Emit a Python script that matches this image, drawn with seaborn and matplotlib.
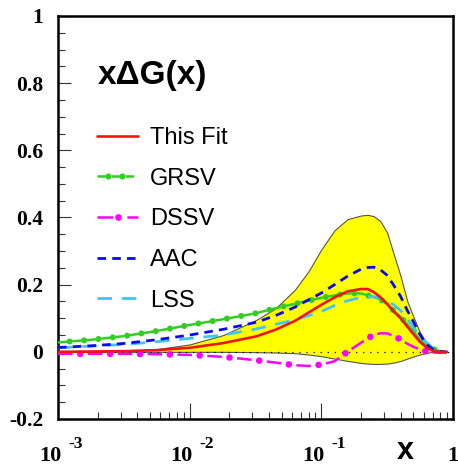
import numpy as np
import matplotlib
matplotlib.use("Agg")
import matplotlib.pyplot as plt
import seaborn as sns
from matplotlib.lines import Line2D
from matplotlib.ticker import FixedLocator, LogLocator, MultipleLocator, NullFormatter
from matplotlib.legend_handler import HandlerTuple, HandlerLine2D

# ---------------- data ----------------
x_vals = [0.001, 0.0018, 0.0032, 0.0056, 0.01, 0.018, 0.032, 0.045, 0.063, 0.08,
          0.1, 0.126, 0.158, 0.2, 0.225, 0.25, 0.28, 0.316, 0.355, 0.4,
          0.45, 0.5, 0.56, 0.63, 0.7, 0.79, 0.9]
this_fit = [0.0, 0.001, 0.002, 0.005, 0.012, 0.026, 0.046, 0.066, 0.092, 0.117,
            0.14, 0.162, 0.18, 0.187, 0.187, 0.178, 0.163, 0.143, 0.12, 0.10,
            0.075, 0.053, 0.03, 0.013, 0.003, 0.0, 0.0]
grsv = [0.028, 0.036, 0.047, 0.062, 0.08, 0.097, 0.115, 0.13, 0.143, 0.152,
        0.161, 0.168, 0.174, 0.174, 0.168, 0.163, 0.157, 0.142, 0.122, 0.104,
        0.081, 0.061, 0.036, 0.02, 0.009, 0.002, -0.002]
dssv = [-0.006, -0.006, -0.006, -0.007, -0.009, -0.015, -0.025, -0.032, -0.04, -0.042,
        -0.038, -0.028, 0.0, 0.027, 0.04, 0.05, 0.055, 0.055, 0.047, 0.037,
        0.024, 0.015, 0.007, 0.001, -0.002, -0.003, -0.002]
aac = [0.013, 0.018, 0.025, 0.036, 0.05, 0.067, 0.088, 0.108, 0.133, 0.155,
       0.175, 0.2, 0.225, 0.246, 0.251, 0.252, 0.245, 0.228, 0.198, 0.165,
       0.123, 0.09, 0.052, 0.022, 0.008, 0.002, -0.001]
lss = [0.012, 0.017, 0.022, 0.03, 0.04, 0.05, 0.068, 0.082, 0.095, 0.108,
       0.12, 0.138, 0.152, 0.162, 0.164, 0.164, 0.16, 0.152, 0.14, 0.123,
       0.097, 0.074, 0.045, 0.028, 0.012, 0.002, -0.002]
band_hi = [0.0, 0.001, 0.003, 0.008, 0.022, 0.05, 0.095, 0.13, 0.185, 0.24,
           0.305, 0.362, 0.395, 0.406, 0.408, 0.404, 0.39, 0.355, 0.29, 0.225,
           0.15, 0.105, 0.058, 0.027, 0.006, 0.0, 0.0]
band_lo = [0.0, 0.0, 0.0, 0.0, 0.0, 0.0, -0.001, -0.002, -0.004, -0.008,
           -0.013, -0.02, -0.027, -0.033, -0.035, -0.036, -0.036, -0.035, -0.032, -0.027,
           -0.02, -0.014, -0.008, -0.003, 0.0, 0.0, 0.0]

legend_labels = ["This Fit", "GRSV", "DSSV", "AAC", "LSS"]
title_text = "xΔG(x)"
x_label = "x"
y_ticks = [-0.2, 0, 0.2, 0.4, 0.6, 0.8, 1]
y_tick_labels = ["-0.2", "0", "0.2", "0.4", "0.6", "0.8", "1"]
x_ticks = [0.001, 0.01, 0.1, 1]
x_tick_base = ["10", "10", "10", "1"]
x_tick_exp = ["-3", "-2", "-1", ""]

# ---------------- style ----------------
sns.set_style("ticks")
plt.rcParams["font.family"] = ["Liberation Sans", "DejaVu Sans"]
plt.rcParams["axes.unicode_minus"] = False
plt.rcParams["lines.scale_dashes"] = False
plt.rcParams["text.color"] = "black"
plt.rcParams["axes.labelcolor"] = "black"
plt.rcParams["xtick.color"] = "black"
plt.rcParams["ytick.color"] = "black"

RED = "#f01414"
GREEN = "#33cc22"
MAGENTA = "#ff00ff"
BLUE = "#0a0aee"
CYAN = "#3fc6f5"


class DotHandler(HandlerLine2D):
    """Places legend markers at given fractions of the handle length."""

    def __init__(self, fracs, **kw):
        super().__init__(numpoints=len(fracs), **kw)
        self.fracs = fracs

    def get_xdata(self, legend, xdescent, ydescent, width, height, fontsize):
        xs = np.array([-xdescent + f * width for f in self.fracs], dtype=float)
        return xs, xs


fig = plt.figure(figsize=(4.58, 4.66), dpi=100)
ax = fig.add_axes([58 / 458, 47 / 466, 395 / 458, 403 / 466])
ax.set_facecolor("white")

# uncertainty band
ax.fill_between(x_vals, band_lo, band_hi, facecolor="#ffff00", edgecolor="#555544",
                linewidth=0.8, zorder=1)
# zero dotted line
ax.axhline(0, color="black", linewidth=0.9, linestyle=(0, (0.9, 4.2)), zorder=2)

# curves
GRSV_DASH = (0, (6.6, 3.8))
GRSV_DOT = (2.0, (0.01, 10.4))
DSSV_DASH = (0, (10.5, 11.0))
DSSV_DOT = (5.5, (0.01, 21.5))
LSS_DASH = (0, (10.5, 7.0))
AAC_DASH = (0, (6.2, 4.4))

sns.lineplot(x=x_vals, y=grsv, ax=ax, color=GREEN, linewidth=1.8,
             linestyle=GRSV_DASH, zorder=3)
sns.lineplot(x=x_vals, y=grsv, ax=ax, color=GREEN, linewidth=4.4,
             linestyle=GRSV_DOT, dash_capstyle="round", zorder=3)
sns.lineplot(x=x_vals, y=dssv, ax=ax, color=MAGENTA, linewidth=1.8,
             linestyle=DSSV_DASH, zorder=3)
sns.lineplot(x=x_vals, y=dssv, ax=ax, color=MAGENTA, linewidth=4.8,
             linestyle=DSSV_DOT, dash_capstyle="round", zorder=3)
sns.lineplot(x=x_vals, y=lss, ax=ax, color=CYAN, linewidth=2.0,
             linestyle=LSS_DASH, zorder=3)
sns.lineplot(x=x_vals, y=aac, ax=ax, color=BLUE, linewidth=2.0,
             linestyle=AAC_DASH, zorder=4)
sns.lineplot(x=x_vals, y=this_fit, ax=ax, color=RED, linewidth=1.9, zorder=5)

# axes
ax.set_xscale("log")
ax.set_xlim(1e-3, 1)
ax.set_ylim(-0.2, 1)

ax.xaxis.set_major_locator(FixedLocator(x_ticks))
ax.xaxis.set_minor_locator(LogLocator(base=10, subs=[2, 3, 4, 5, 6, 7, 8, 9]))
ax.xaxis.set_major_formatter(NullFormatter())
ax.xaxis.set_minor_formatter(NullFormatter())
ax.yaxis.set_major_locator(FixedLocator(y_ticks))
ax.yaxis.set_minor_locator(MultipleLocator(0.05))
ax.set_yticklabels(y_tick_labels, fontfamily="Liberation Serif", fontweight="bold",
                   fontsize=15.5, color="black")

ax.tick_params(axis="both", which="both", direction="in", top=False, right=False,
               color="#333333", width=0.8)
ax.tick_params(axis="x", which="major", length=11.5)
ax.tick_params(axis="x", which="minor", length=5.2)
ax.tick_params(axis="y", which="major", length=9.4, pad=10.5)
ax.tick_params(axis="y", which="minor", length=5.0)

for s in ax.spines.values():
    s.set_linewidth(1.8)
    s.set_color("black")

for t, b, e in zip(x_ticks, x_tick_base, x_tick_exp):
    if e:
        ax.annotate(b, xy=(t, 0), xycoords=("data", "axes fraction"), xytext=(-8, -42),
                    textcoords="offset pixels", ha="center", va="baseline",
                    fontsize=16, fontweight="bold", fontfamily="Liberation Serif",
                    annotation_clip=False)
        ax.annotate(e, xy=(t, 0), xycoords=("data", "axes fraction"), xytext=(10, -29),
                    textcoords="offset pixels", ha="left", va="baseline",
                    fontsize=12.5, fontweight="bold", fontfamily="Liberation Serif",
                    annotation_clip=False)
    else:
        ax.annotate(b, xy=(t, 0), xycoords=("data", "axes fraction"), xytext=(0, -42),
                    textcoords="offset pixels", ha="center", va="baseline",
                    fontsize=16, fontweight="bold", fontfamily="Liberation Serif",
                    annotation_clip=False)

ax.set_xlabel(x_label, fontsize=22, fontweight="bold", fontfamily="Liberation Sans")
ax.xaxis.label.set_va("baseline")
ax.xaxis.set_label_coords((405 - 58) / 395, (419 - 459) / 403)

ax.text((98 - 58) / 395, (419 - 84) / 403, title_text, transform=ax.transAxes,
        fontsize=24, fontweight="bold", fontfamily="Liberation Sans", va="baseline",
        ha="left")

# legend proxies built from the same styles as the drawn curves
h_fit = Line2D([], [], color=RED, linewidth=1.9)
h_grsv_l = Line2D([], [], color=GREEN, linewidth=1.8, linestyle=(0, (6.0, 4.2)))
h_grsv_m = Line2D([], [], color=GREEN, linestyle="None", marker="o", markersize=4.4,
                  markeredgewidth=0)
h_dssv_l = Line2D([], [], color=MAGENTA, linewidth=1.8, linestyle=(0, (11.5, 10.0)))
h_dssv_m = Line2D([], [], color=MAGENTA, linestyle="None", marker="o", markersize=4.8,
                  markeredgewidth=0)
h_aac = Line2D([], [], color=BLUE, linewidth=2.0, linestyle=AAC_DASH)
h_lss = Line2D([], [], color=CYAN, linewidth=2.0, linestyle=LSS_DASH)

handles = [h_fit, (h_grsv_l, h_grsv_m), (h_dssv_l, h_dssv_m), h_aac, h_lss]
ax.legend(handles, legend_labels, loc="upper left",
          bbox_to_anchor=((97 - 58) / 395, (419 - 127) / 403),
          frameon=False, fontsize=17, handlelength=1.75, handletextpad=0.5,
          labelspacing=0.79, borderpad=0, borderaxespad=0, labelcolor="black",
          handler_map={tuple: HandlerTuple(ndivide=1, pad=0),
                       h_grsv_m: DotHandler([0.27, 0.61]),
                       h_dssv_m: HandlerLine2D(numpoints=1)})

fig.savefig("out.png", dpi=100)
